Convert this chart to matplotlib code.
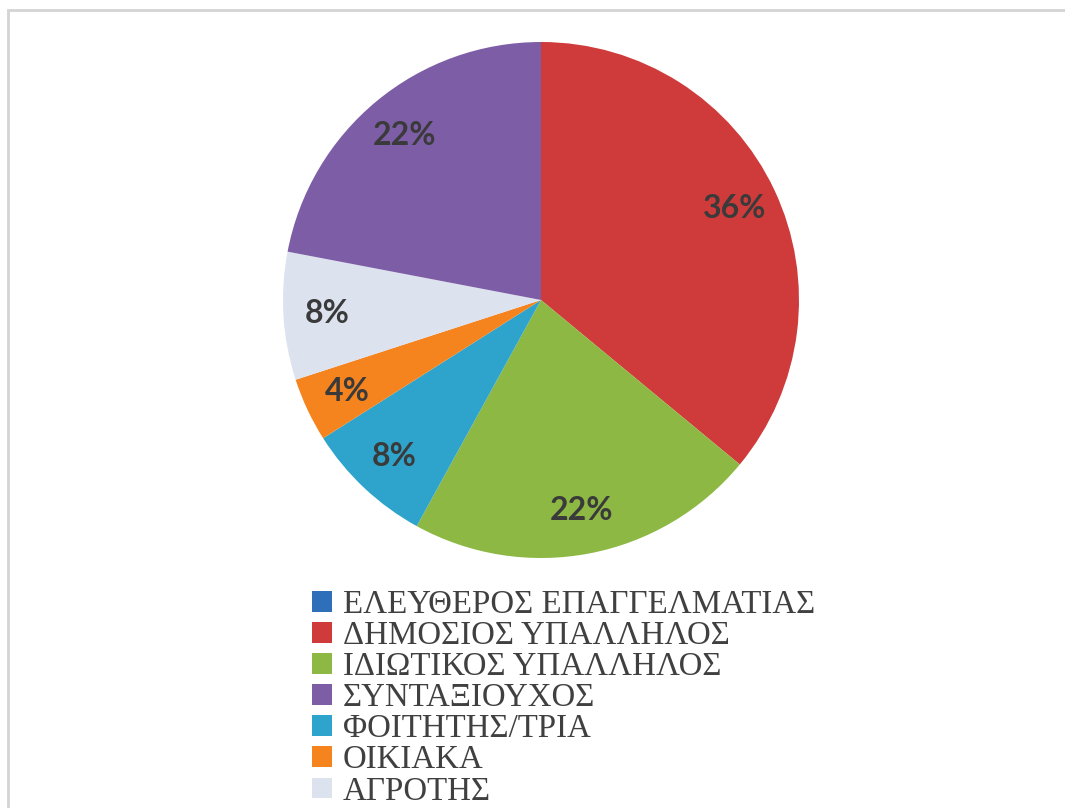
"""Pie chart: occupation of respondents (Greek labels)."""

import matplotlib

matplotlib.use("Agg")
import matplotlib.pyplot as plt
from matplotlib.patches import Patch, Rectangle

# Categories as drawn around the pie, clockwise from 12 o'clock.
pie_labels = [
    "ΕΛΕΥΘΕΡΟΣ ΕΠΑΓΓΕΛΜΑΤΙΑΣ",
    "ΔΗΜΟΣΙΟΣ ΥΠΑΛΛΗΛΟΣ",
    "ΙΔΙΩΤΙΚΟΣ ΥΠΑΛΛΗΛΟΣ",
    "ΦΟΙΤΗΤΗΣ/ΤΡΙΑ",
    "ΟΙΚΙΑΚΑ",
    "ΑΓΡΟΤΗΣ",
    "ΣΥΝΤΑΞΙΟΥΧΟΣ",
]
pie_values = [0, 36, 22, 8, 4, 8, 22]
pie_colors = ["#2f6fba", "#cf3b3a", "#8cb843", "#2ea4cc", "#f5841f", "#dce3ef", "#7d5ea6"]

# Legend order as shown under the chart.
legend_order = [
    "ΕΛΕΥΘΕΡΟΣ ΕΠΑΓΓΕΛΜΑΤΙΑΣ",
    "ΔΗΜΟΣΙΟΣ ΥΠΑΛΛΗΛΟΣ",
    "ΙΔΙΩΤΙΚΟΣ ΥΠΑΛΛΗΛΟΣ",
    "ΣΥΝΤΑΞΙΟΥΧΟΣ",
    "ΦΟΙΤΗΤΗΣ/ΤΡΙΑ",
    "ΟΙΚΙΑΚΑ",
    "ΑΓΡΟΤΗΣ",
]

W, H = 1065, 808
fig = plt.figure(figsize=(W / 100, H / 100), dpi=100)
fig.patch.set_facecolor("white")

# Light frame of the chart area (runs off the right and bottom edges).
fig.patches.append(Rectangle(
    (8 / W, -0.2), 1.5, (H - 10) / H + 0.2, transform=fig.transFigure,
    fill=False, edgecolor="#d4d4d4", linewidth=2, zorder=0,
))

# Pie: radius 258 px centred at (541, 300) px from top-left.
r, cx, cy = 258, 541, 300
ax = fig.add_axes([(cx - r) / W, (H - cy - r) / H, 2 * r / W, 2 * r / H])


def pct(p):
    return "" if p < 0.5 else f"{p:.0f}%"


wedges, texts, autotexts = ax.pie(
    pie_values, colors=pie_colors, startangle=90, counterclock=False,
    radius=1, autopct=pct, pctdistance=0.83,
    wedgeprops=dict(linewidth=0),
    textprops=dict(fontsize=23, fontweight="bold", color="#3a3a3a",
                   family="Lato"),
)
ax.set_xlim(-1, 1)
ax.set_ylim(-1, 1)
ax.set_aspect("equal")
ax.axis("off")

color_of = dict(zip(pie_labels, pie_colors))
handles = [Patch(facecolor=color_of[name], edgecolor="none") for name in legend_order]
fig.legend(
    handles, legend_order, loc="upper left",
    bbox_to_anchor=(299 / W, (H - 576) / H),
    frameon=False, prop=dict(family="Liberation Serif", size=23.7),
    handlelength=0.6, handleheight=0.6, handletextpad=0.33,
    labelspacing=0.02, borderaxespad=0, labelcolor="#404040",
)

fig.savefig("out.png", dpi=100, facecolor="white")
